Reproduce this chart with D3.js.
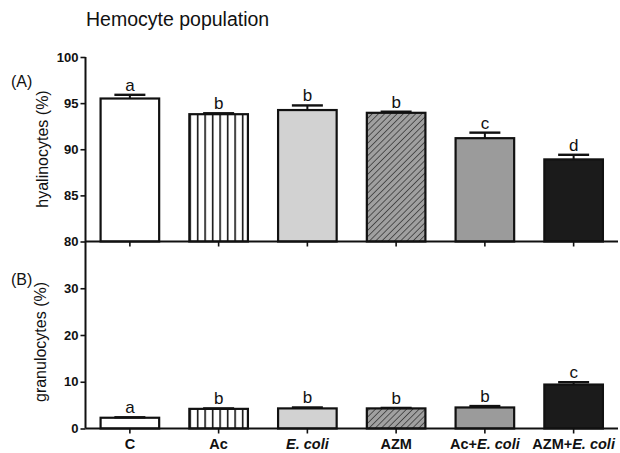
<!DOCTYPE html>
<html>
<head>
<meta charset="utf-8">
<script src="https://cdn.jsdelivr.net/npm/d3@7"></script>
<style>
  html, body { margin: 0; padding: 0; background: #fff; }
  svg { display: block; font-family: "Liberation Sans", Arial, sans-serif; }
</style>
</head>
<body>
<svg id="chart" width="620" height="453"></svg>
<script>
// Treatment groups
const groups = ["C", "Ac", "E. coli", "AZM", "Ac+E. coli", "AZM+E. coli"];
// Hyalinocytes (%) mean and SEM
const hyalMean = [95.5, 93.8, 94.25, 93.95, 91.2, 88.9];
const hyalSem  = [0.4, 0.1, 0.5, 0.12, 0.6, 0.5];
const hyalLetters = ["a", "b", "b", "b", "c", "d"];
// Granulocytes (%) mean and SEM
const granMean = [2.3, 4.2, 4.3, 4.3, 4.5, 9.4];
const granSem  = [0.1, 0.1, 0.2, 0.1, 0.3, 0.5];
const granLetters = ["a", "b", "b", "b", "b", "c"];
// Axis ticks
const hyalTicks = [80, 85, 90, 95, 100];
const granTicks = [0, 10, 20, 30];

const svg = d3.select("#chart");
const axisX0 = 85.5, axisX1 = 618;

const x = d3.scaleBand().domain(groups).range([axisX0, axisX1])
  .paddingInner(0.34).paddingOuter(0.17);

const yTop = d3.scaleLinear().domain([80, 100]).range([241.5, 57]);
const yBot = d3.scaleLinear().domain([0, 40]).range([428.5, 241.5]);

// Fill patterns
const defs = svg.append("defs");
const vert = defs.append("pattern").attr("id", "vlines")
  .attr("patternUnits", "userSpaceOnUse")
  .attr("x", x("Ac")).attr("y", 0).attr("width", 7.5).attr("height", 10);
vert.append("rect").attr("width", 7.5).attr("height", 10).attr("fill", "#fff");
vert.append("line").attr("x1", 0).attr("x2", 0).attr("y1", 0).attr("y2", 10)
  .attr("stroke", "#111").attr("stroke-width", 3.2);

const diag = defs.append("pattern").attr("id", "diag")
  .attr("patternUnits", "userSpaceOnUse")
  .attr("width", 4.4).attr("height", 4.4)
  .attr("patternTransform", "rotate(45)");
diag.append("rect").attr("width", 4.4).attr("height", 4.4).attr("fill", "#a0a0a0");
diag.append("line").attr("x1", 0).attr("x2", 0).attr("y1", 0).attr("y2", 4.4)
  .attr("stroke", "#1a1a1a").attr("stroke-width", 1.2);

const fills = ["#ffffff", "url(#vlines)", "#d2d2d2", "url(#diag)", "#9b9b9b", "#1b1b1b"];

function panel(y, means, sems, letters, ticks, showLabels) {
  const base = y.range()[0];
  const g = svg.append("g");
  const data = groups.map((k, i) => ({ k, m: means[i], s: sems[i], l: letters[i], f: fills[i] }));

  // bars
  g.selectAll("rect.bar").data(data).join("rect").attr("class", "bar")
    .attr("x", d => x(d.k)).attr("width", x.bandwidth())
    .attr("y", d => y(d.m)).attr("height", d => base - y(d.m))
    .attr("fill", d => d.f).attr("stroke", "#111").attr("stroke-width", 2.2);

  // error bars (upper only)
  const cx = d => x(d.k) + x.bandwidth() / 2;
  g.selectAll("line.err").data(data).join("line").attr("class", "err")
    .attr("x1", cx).attr("x2", cx)
    .attr("y1", d => y(d.m)).attr("y2", d => y(d.m + d.s))
    .attr("stroke", "#111").attr("stroke-width", 2);
  g.selectAll("line.cap").data(data).join("line").attr("class", "cap")
    .attr("x1", d => cx(d) - 15.5).attr("x2", d => cx(d) + 15.5)
    .attr("y1", d => y(d.m + d.s)).attr("y2", d => y(d.m + d.s))
    .attr("stroke", "#111").attr("stroke-width", 2.4);

  // significance letters
  g.selectAll("text.sig").data(data).join("text").attr("class", "sig")
    .attr("x", cx).attr("y", d => y(d.m + d.s) - 4)
    .attr("text-anchor", "middle").attr("font-size", 17).attr("fill", "#111")
    .text(d => d.l);

  // y axis
  const ya = svg.append("g").attr("transform", `translate(${axisX0},0)`)
    .call(d3.axisLeft(y).tickValues(ticks).tickSize(5).tickPadding(2).tickFormat(d3.format("d")));
  ya.select(".domain").remove();
  ya.selectAll(".tick line").attr("stroke", "#111").attr("stroke-width", 1.6);
  ya.selectAll(".tick text").attr("font-size", 13).attr("font-weight", "bold")
    .attr("fill", "#111").attr("font-family", "Liberation Sans, Arial, sans-serif");

  // x axis
  const xa = svg.append("g").attr("transform", `translate(0,${base})`)
    .call(d3.axisBottom(x).tickSize(5).tickPadding(8).tickSizeOuter(0));
  xa.select(".domain").attr("stroke", "#111").attr("stroke-width", 2)
    .attr("d", `M${axisX0},0H${axisX1}`);
  xa.selectAll(".tick line").attr("stroke", "#111").attr("stroke-width", 1.6);
  if (showLabels) {
    xa.selectAll(".tick text").each(function (d) {
      const t = d3.select(this).text(null)
        .attr("font-size", 14.5).attr("font-weight", "bold").attr("fill", "#111")
        .attr("font-family", "Liberation Sans, Arial, sans-serif")
        .attr("y", 10);
      const idx = d.indexOf("E. coli");
      if (idx < 0) { t.text(d); }
      else {
        if (idx > 0) t.append("tspan").text(d.slice(0, idx));
        t.append("tspan").attr("font-style", "italic").text("E. coli");
      }
    });
  } else {
    xa.selectAll(".tick text").remove();
  }
}

panel(yTop, hyalMean, hyalSem, hyalLetters, hyalTicks, false);
panel(yBot, granMean, granSem, granLetters, granTicks, true);

// continuous y axis line spanning both panels
svg.append("line").attr("x1", axisX0).attr("x2", axisX0)
  .attr("y1", yTop(100)).attr("y2", yBot(0))
  .attr("stroke", "#111").attr("stroke-width", 2);

// titles and labels
svg.append("text").attr("x", 86).attr("y", 26).attr("font-size", 19.5).attr("fill", "#111")
  .text("Hemocyte population");
svg.append("text").attr("x", 11).attr("y", 87).attr("font-size", 16).attr("fill", "#111").text("(A)");
svg.append("text").attr("x", 11).attr("y", 285).attr("font-size", 16).attr("fill", "#111").text("(B)");
svg.append("text").attr("transform", "translate(48,149) rotate(-90)")
  .attr("text-anchor", "middle").attr("font-size", 16).attr("fill", "#111")
  .text("hyalinocytes (%)");
svg.append("text").attr("transform", "translate(46,342) rotate(-90)")
  .attr("text-anchor", "middle").attr("font-size", 16).attr("fill", "#111")
  .text("granulocytes (%)");
</script>
</body>
</html>
